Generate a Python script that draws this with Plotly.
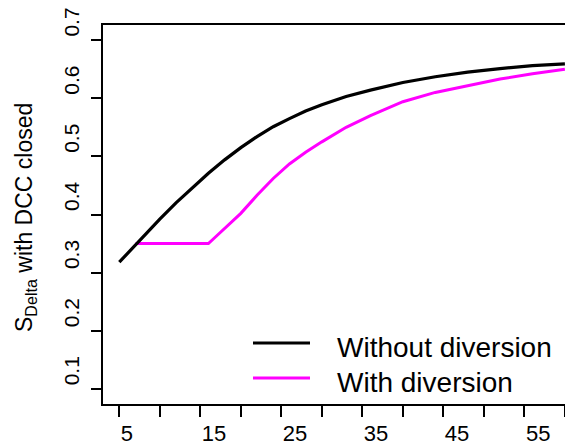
import plotly.graph_objects as go

# Data
x_without = [5, 6, 7, 8, 10, 12, 14, 16, 18, 20, 22, 24, 26, 28, 30, 33, 36, 40, 44, 48, 52, 56, 60]
y_without = [0.318, 0.333, 0.349, 0.363, 0.392, 0.420, 0.446, 0.471, 0.494, 0.515, 0.534, 0.551,
             0.565, 0.578, 0.589, 0.603, 0.614, 0.627, 0.637, 0.645, 0.651, 0.656, 0.659]

x_with = [7, 16, 17, 19, 20, 22, 24, 26, 28, 30, 33, 36, 40, 44, 48, 52, 56, 60]
y_with = [0.35, 0.35, 0.363, 0.39, 0.402, 0.433, 0.462, 0.487, 0.507, 0.525, 0.550, 0.570,
          0.594, 0.610, 0.622, 0.633, 0.642, 0.650]

x_tickvals = [5, 10, 15, 20, 25, 30, 35, 40, 45, 50, 55, 60]
x_ticktext = ["5", "", "15", "", "25", "", "35", "", "45", "", "55", ""]
y_tickvals = [0.1, 0.2, 0.3, 0.4, 0.5, 0.6, 0.7]
y_ticktext = ["0.1", "0.2", "0.3", "0.4", "0.5", "0.6", "0.7"]

legend_names = ["Without diversion", "With diversion"]
colors = ["#000000", "#FF00FF"]

# page body has an 8px margin; figure drawn so that the window shows the reference layout
OFF = 8
W, H = 573 - OFF, 446 - OFF
L, T, R = 103 - OFF, 25 - OFF, 0
B = H - (404 - OFF)
pw, ph = W - L - R, H - T - B

def px(x):
    return (x - OFF - L) / pw

def py(y):
    return (H - B - (y - OFF)) / ph

fig = go.Figure()
fig.add_trace(go.Scatter(x=x_with, y=y_with, mode="lines", name=legend_names[1],
                         line=dict(color=colors[1], width=3)))
fig.add_trace(go.Scatter(x=x_without, y=y_without, mode="lines", name=legend_names[0],
                         line=dict(color=colors[0], width=3.2)))

font = "Liberation Sans, Arial, sans-serif"

fig.update_layout(
    width=W, height=H,
    margin=dict(l=L, r=R, t=T, b=B, autoexpand=False),
    paper_bgcolor="white", plot_bgcolor="white",
    showlegend=False,
    font=dict(family=font, color="black", size=21),
    xaxis=dict(range=[2.99, 61.0], tickvals=x_tickvals, ticktext=x_ticktext,
               ticks="outside", ticklen=11, tickwidth=1.5, tickcolor="black",
               showline=True, linecolor="black", linewidth=1.5, mirror=True,
               showgrid=False, zeroline=False, tickfont=dict(size=22),
               ticklabelposition="outside right", ticklabelstandoff=9,
               ticklabeloverflow="allow",
               automargin=False),
    yaxis=dict(range=[0.074, 0.726], tickvals=y_tickvals, ticktext=y_ticktext,
               ticks="outside", ticklen=10, tickwidth=1.5, tickcolor="black",
               showline=True, linecolor="black", linewidth=1.5,
               showgrid=False, zeroline=False, tickangle=-90, tickfont=dict(size=21),
               ticklabelshift=-15, ticklabelstandoff=4, ticklabeloverflow="allow",
               automargin=False),
)

# Y axis title
fig.add_annotation(text="S<sub>Delta</sub> with DCC closed", xref="paper", yref="paper",
                   x=px(25), y=py(218), xanchor="center", yanchor="middle",
                   textangle=-90, showarrow=False, font=dict(size=23, family=font))

# Manual legend
leg_y = [343, 378]
for name, c, yy in zip(legend_names, colors, leg_y):
    fig.add_shape(type="line", xref="paper", yref="paper",
                  x0=px(253), x1=px(310), y0=py(yy), y1=py(yy),
                  line=dict(color=c, width=3))
    fig.add_annotation(text=name, xref="paper", yref="paper",
                       x=px(335), y=py(yy + 4), xanchor="left", yanchor="middle",
                       showarrow=False, font=dict(size=28, family=font))

fig.write_html("out.html")
